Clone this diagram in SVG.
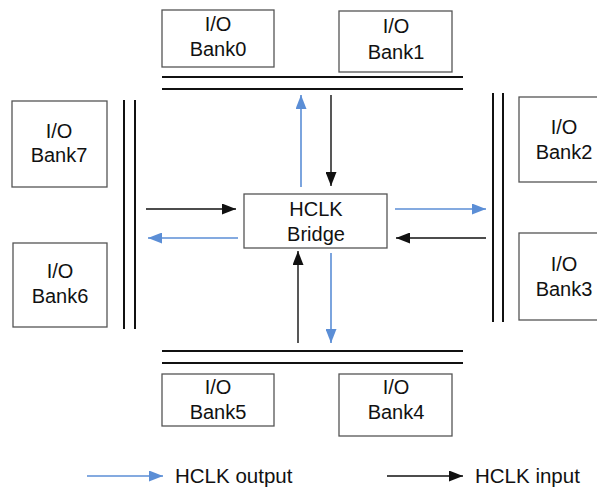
<svg xmlns="http://www.w3.org/2000/svg" width="597" height="487" viewBox="0 0 597 487">
<style>
.box{fill:#fff;stroke:#555;stroke-width:1.3}
.t{font-family:"Liberation Sans",Arial,sans-serif;font-size:20px;fill:#111;text-anchor:middle}
.lt{font-family:"Liberation Sans",Arial,sans-serif;font-size:20.5px;fill:#111}
.bus{stroke:#111;stroke-width:2;fill:none}
.out{stroke:#5b8ed6;stroke-width:1.6;fill:none;marker-end:url(#ab)}
.in{stroke:#111;stroke-width:1.4;fill:none;marker-end:url(#ak)}
</style>
<defs>
<marker id="ab" markerUnits="userSpaceOnUse" markerWidth="15" markerHeight="11" refX="14" refY="5.5" orient="auto"><path d="M0,0 L14,5.5 L0,11 z" fill="#5b8ed6"/></marker>
<marker id="ak" markerUnits="userSpaceOnUse" markerWidth="15" markerHeight="11" refX="14" refY="5.5" orient="auto"><path d="M0,0 L14,5.5 L0,11 z" fill="#111"/></marker>
</defs>
<rect width="597" height="487" fill="#fff"/>
<g id="buses">
<line class="bus" x1="162" y1="77" x2="463" y2="77"/>
<line class="bus" x1="162" y1="89" x2="463" y2="89"/>
<line class="bus" x1="162" y1="351" x2="463" y2="351"/>
<line class="bus" x1="162" y1="363" x2="463" y2="363"/>
<line class="bus" x1="124" y1="100" x2="124" y2="329"/>
<line class="bus" x1="135" y1="100" x2="135" y2="329"/>
<line class="bus" x1="493" y1="93" x2="493" y2="322"/>
<line class="bus" x1="503" y1="93" x2="503" y2="322"/>
</g>
<g id="bank0"><rect class="box" x="162" y="10" width="112" height="57"/><text class="t" x="218" y="31">I/O</text><text class="t" x="218" y="56">Bank0</text></g>
<g id="bank1"><rect class="box" x="339" y="11" width="113" height="61"/><text class="t" x="396" y="33">I/O</text><text class="t" x="396" y="59">Bank1</text></g>
<g id="bank7"><rect class="box" x="12" y="101" width="95" height="86"/><text class="t" x="59" y="138">I/O</text><text class="t" x="59" y="162">Bank7</text></g>
<g id="bank6"><rect class="box" x="13" y="243" width="94" height="84"/><text class="t" x="60" y="278">I/O</text><text class="t" x="60" y="303">Bank6</text></g>
<g id="bank2"><rect class="box" x="519" y="97" width="90" height="85"/><text class="t" x="564" y="134">I/O</text><text class="t" x="564" y="159">Bank2</text></g>
<g id="bank3"><rect class="box" x="519" y="233" width="90" height="87"/><text class="t" x="564" y="271">I/O</text><text class="t" x="564" y="296">Bank3</text></g>
<g id="bank5"><rect class="box" x="162" y="374" width="112" height="52"/><text class="t" x="218" y="394">I/O</text><text class="t" x="218" y="419">Bank5</text></g>
<g id="bank4"><rect class="box" x="339" y="374" width="113" height="62"/><text class="t" x="396" y="394">I/O</text><text class="t" x="396" y="419">Bank4</text></g>
<g id="bridge"><rect class="box" x="244" y="194" width="143" height="54"/><text class="t" x="316" y="216">HCLK</text><text class="t" x="316" y="241">Bridge</text></g>
<g id="connectors">
<line class="in" x1="146" y1="209" x2="236" y2="209"/>
<line class="out" x1="238" y1="238" x2="148" y2="238"/>
<line class="out" x1="395" y1="209" x2="486" y2="209"/>
<line class="in" x1="486" y1="238" x2="396" y2="238"/>
<line class="out" x1="301" y1="187" x2="301" y2="95"/>
<line class="in" x1="331" y1="95" x2="331" y2="186"/>
<line class="in" x1="298" y1="343" x2="298" y2="251"/>
<line class="out" x1="331" y1="253" x2="331" y2="343"/>
</g>
<g id="legend">
<line class="out" x1="87" y1="476" x2="163" y2="476"/>
<text class="lt" x="175" y="483">HCLK output</text>
<line class="in" x1="387" y1="476" x2="463" y2="476"/>
<text class="lt" x="475" y="483">HCLK input</text>
</g>
</svg>
